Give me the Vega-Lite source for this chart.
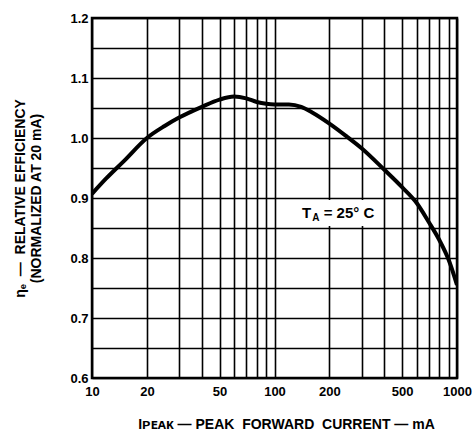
{
  "$schema": "https://vega.github.io/schema/vega-lite/v6.json",
  "width": 365,
  "height": 360,
  "autosize": "none",
  "padding": {"left": 92, "top": 18, "right": 16, "bottom": 60},
  "background": "white",
  "config": {
    "font": "Liberation Sans",
    "view": {"stroke": "black", "strokeWidth": 2.5},
    "axis": {
      "domain": false,
      "ticks": false,
      "grid": true,
      "gridColor": "black",
      "gridWidth": 1.6,
      "gridOpacity": 1,
      "labelFlush": false,
      "labelFont": "Liberation Sans",
      "labelFontWeight": "bold",
      "labelFontSize": 13,
      "labelColor": "black",
      "titleFont": "Liberation Sans",
      "titleFontWeight": "bold",
      "titleFontSize": 14,
      "titleColor": "black"
    }
  },
  "datasets": {
    "curve": [
      {"current": 10, "eff": 0.907},
      {"current": 12, "eff": 0.933},
      {"current": 15, "eff": 0.962},
      {"current": 20, "eff": 1.0},
      {"current": 25, "eff": 1.02},
      {"current": 30, "eff": 1.034},
      {"current": 40, "eff": 1.052},
      {"current": 50, "eff": 1.064},
      {"current": 60, "eff": 1.069},
      {"current": 70, "eff": 1.066},
      {"current": 80, "eff": 1.06},
      {"current": 90, "eff": 1.057},
      {"current": 100, "eff": 1.056},
      {"current": 120, "eff": 1.056},
      {"current": 140, "eff": 1.052},
      {"current": 160, "eff": 1.043},
      {"current": 200, "eff": 1.024},
      {"current": 250, "eff": 1.002},
      {"current": 300, "eff": 0.983},
      {"current": 400, "eff": 0.947},
      {"current": 500, "eff": 0.918},
      {"current": 600, "eff": 0.892},
      {"current": 700, "eff": 0.86},
      {"current": 800, "eff": 0.83},
      {"current": 900, "eff": 0.797},
      {"current": 1000, "eff": 0.755}
    ],
    "box": [{"x1": 107, "x2": 372, "y1": 0.8535, "y2": 0.8965}],
    "t": [{"x": 141.5, "y": 0.875, "label": "T"}],
    "sub": [{"x": 161, "y": 0.875, "label": "A"}],
    "rest": [{"x": 186, "y": 0.875, "label": "= 25° C"}]
  },
  "layer": [
    {
      "data": {"name": "curve"},
      "mark": {"type": "line", "color": "black", "strokeWidth": 4, "interpolate": "monotone", "clip": true},
      "encoding": {
        "x": {
          "field": "current",
          "type": "quantitative",
          "scale": {"type": "log", "domain": [10, 1000], "nice": false},
          "axis": {
            "values": [10, 20, 30, 40, 50, 60, 70, 80, 90, 100, 200, 300, 400, 500, 600, 700, 800, 900, 1000],
            "format": "d",
            "labelExpr": "indexof([10,20,50,100,200,500,1000], datum.value) >= 0 ? datum.label : ''",
            "labelPadding": 7,
            "labelOverlap": false,
            "title": "Iᴘᴇᴀᴋ — PEAK\u00a0 FORWARD\u00a0 CURRENT — mA",
            "titlePadding": 19,
            "titleX": 194
          }
        },
        "y": {
          "field": "eff",
          "type": "quantitative",
          "scale": {"domain": [0.6, 1.2], "nice": false, "zero": false},
          "axis": {
            "tickCount": 12,
            "labelExpr": "round(datum.value*20) % 2 == 0 ? format(datum.value, '.1f') : ''",
            "labelPadding": 4,
            "labelOverlap": false,
            "title": ["ηₑ \u00a0—\u00a0 RELATIVE EFFICIENCY", "(NORMALIZED AT 20 mA)"],
            "titlePadding": 26,
            "titleLineHeight": 16
          }
        }
      }
    },
    {
      "data": {"name": "box"},
      "mark": {"type": "rect", "color": "white"},
      "encoding": {
        "x": {"field": "x1", "type": "quantitative"},
        "x2": {"field": "x2"},
        "y": {"field": "y1", "type": "quantitative"},
        "y2": {"field": "y2"}
      }
    },
    {
      "data": {"name": "t"},
      "mark": {"type": "text", "align": "left", "baseline": "middle", "font": "Liberation Sans", "fontWeight": "bold", "fontSize": 15, "color": "black"},
      "encoding": {
        "x": {"field": "x", "type": "quantitative"},
        "y": {"field": "y", "type": "quantitative"},
        "text": {"field": "label"}
      }
    },
    {
      "data": {"name": "sub"},
      "mark": {"type": "text", "align": "left", "baseline": "middle", "dy": 5, "font": "Liberation Sans", "fontWeight": "bold", "fontSize": 10, "color": "black"},
      "encoding": {
        "x": {"field": "x", "type": "quantitative"},
        "y": {"field": "y", "type": "quantitative"},
        "text": {"field": "label"}
      }
    },
    {
      "data": {"name": "rest"},
      "mark": {"type": "text", "align": "left", "baseline": "middle", "font": "Liberation Sans", "fontWeight": "bold", "fontSize": 15, "color": "black"},
      "encoding": {
        "x": {"field": "x", "type": "quantitative"},
        "y": {"field": "y", "type": "quantitative"},
        "text": {"field": "label"}
      }
    }
  ]
}
